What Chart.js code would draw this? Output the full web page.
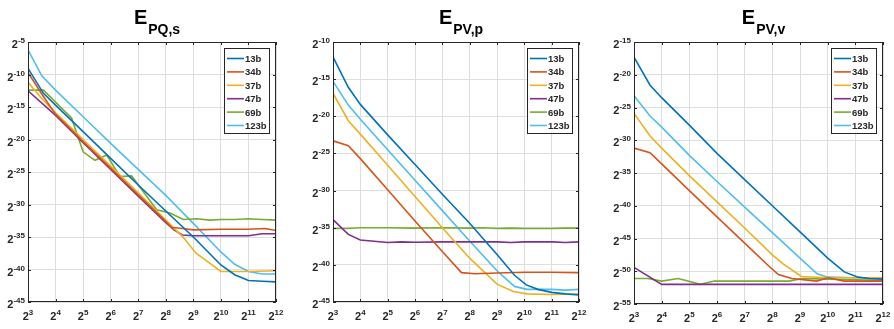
<!DOCTYPE html>
<html>
<head>
<meta charset="utf-8">
<script src="https://cdn.jsdelivr.net/npm/chart.js@4.4.1/dist/chart.umd.min.js"></script>
<style>
  html, body { margin: 0; padding: 0; background: #fff; }
  #wrap { position: relative; width: 894px; height: 329px; }
  canvas { position: absolute; top: 0; }
</style>
</head>
<body>
<div id="wrap">
  <canvas id="pqs" width="298" height="329" style="left:0px"></canvas>
  <canvas id="pvp" width="298" height="329" style="left:298px"></canvas>
  <canvas id="pvv" width="298" height="329" style="left:596px"></canvas>
</div>
<script>
// values are log2 exponents: x = log2(N), y = log2(error)
const seriesNames = ['13b', '34b', '37b', '47b', '69b', '123b'];
const xTicks = [3, 4, 5, 6, 7, 8, 9, 10, 11, 12];
const pqsYTicks = [-45, -40, -35, -30, -25, -20, -15, -10, -5];
const pvpYTicks = [-45, -40, -35, -30, -25, -20, -15, -10];
const pvvYTicks = [-55, -50, -45, -40, -35, -30, -25, -20, -15];

// E_PQ,s
const pqs13b = [[3,-9.05],[3.56,-12.9],[4,-14.7],[5,-18.8],[6,-22.9],[7,-27.0],[8,-31.0],[9,-35.0],[10,-39.3],[10.5,-40.8],[11,-41.7],[11.5,-41.8],[12,-41.9]];
const pqs34b = [[3,-9.7],[3.5,-13.0],[4,-16.1],[5,-20.3],[6,-24.4],[7,-28.5],[8,-32.6],[8.2,-33.5],[8.6,-33.7],[9,-33.9],[10,-33.8],[11,-33.8],[11.6,-33.7],[12,-34.0]];
const pqs37b = [[3,-11.2],[3.5,-13.7],[4,-15.9],[5,-20.0],[6,-24.1],[7,-28.2],[8,-32.4],[8.6,-34.9],[9.1,-37.5],[10,-40.3],[11,-40.3],[12,-40.2]];
const pqs47b = [[3,-12.5],[4,-16.3],[5,-20.5],[6,-24.6],[7,-28.7],[8,-32.8],[8.3,-33.9],[8.6,-34.7],[9,-34.8],[10,-34.8],[11,-34.8],[11.5,-34.5],[12,-34.5]];
const pqs69b = [[3,-12.4],[3.56,-12.4],[4.58,-16.7],[5.0,-21.9],[5.43,-23.2],[5.86,-22.4],[6.34,-25.7],[6.76,-25.6],[7.67,-30.8],[8.15,-31.3],[8.64,-32.3],[9.12,-32.2],[9.6,-32.4],[10,-32.3],[10.5,-32.3],[11,-32.2],[11.5,-32.3],[12,-32.4]];
const pqs123b = [[3,-6.2],[3.5,-10.2],[4,-12.4],[5,-16.5],[6,-20.6],[7,-24.6],[8,-28.6],[9,-32.9],[10,-37.3],[10.5,-39.2],[11,-40.3],[11.5,-40.7],[12,-40.7]];

// E_PV,p
const pvp13b = [[3,-12.0],[3.56,-16.1],[4,-18.4],[5,-22.5],[6,-26.5],[7,-30.5],[8,-34.4],[9,-38.6],[9.64,-41.4],[10.07,-42.7],[10.5,-43.3],[11,-43.7],[11.5,-43.9],[12,-44.05]];
const pvp34b = [[3,-23.3],[3.56,-23.95],[4,-25.7],[5,-29.9],[6,-34.1],[7,-38.2],[7.7,-41.05],[8.2,-41.2],[9,-41.1],[10,-41.0],[11,-41.0],[12,-41.05]];
const pvp37b = [[3,-16.9],[3.56,-20.6],[4,-22.4],[5,-26.6],[6,-30.8],[7,-35.0],[8,-39.1],[9,-42.6],[9.6,-43.6],[10.1,-43.9],[11,-44.0],[12,-43.9]];
const pvp47b = [[3,-33.9],[3.56,-35.9],[4,-36.65],[5,-37.0],[5.5,-36.9],[6,-36.95],[7,-36.9],[8,-36.9],[9,-36.9],[9.5,-37.0],[10,-36.9],[11,-36.9],[11.5,-37.0],[12,-36.9]];
const pvp69b = [[3,-35.1],[3.5,-35.1],[4,-35.0],[5,-35.0],[6,-35.05],[7,-35.0],[8,-35.05],[8.5,-35.0],[9,-35.1],[9.5,-35.05],[10,-35.1],[11,-35.1],[11.5,-35.05],[12,-35.05]];
const pvp123b = [[3,-15.3],[3.56,-18.5],[4,-20.4],[5,-24.5],[6,-28.6],[7,-32.7],[8,-36.8],[9,-40.8],[9.64,-42.9],[10.1,-43.3],[11,-43.3],[11.5,-43.4],[12,-43.3]];

// E_PV,v
const pvv13b = [[3,-17.3],[3.58,-21.6],[4,-23.5],[5,-27.7],[6,-32.0],[7,-36.0],[8,-40.0],[9,-44.0],[10,-48.0],[10.6,-50.1],[11.1,-50.9],[11.5,-51.1],[12,-51.2]];
const pvv34b = [[3,-31.2],[3.58,-31.9],[4,-33.6],[5,-37.7],[6,-41.7],[7,-45.7],[7.87,-49.2],[8.22,-50.5],[8.7,-51.1],[9.6,-51.5],[10.03,-51.0],[10.6,-51.5],[11,-51.5],[12,-51.5]];
const pvv37b = [[3,-25.9],[3.58,-29.35],[4,-31.2],[5,-35.4],[6,-39.4],[7,-43.4],[8,-47.5],[8.4,-48.9],[9.05,-50.8],[10,-51.0],[11,-51.0],[12,-51.0]];
const pvv47b = [[3,-49.4],[4,-52.0],[5,-52.0],[6,-52.0],[7,-52.0],[8,-52.0],[9,-52.0],[10,-52.0],[11,-52.0],[12,-52.0]];
const pvv69b = [[3,-51.1],[3.5,-51.1],[4,-51.5],[4.6,-51.1],[5.4,-52.0],[5.9,-51.5],[7,-51.5],[8.6,-51.5],[9.1,-51.1],[10,-51.2],[11,-51.3],[12,-51.4]];
const pvv123b = [[3,-23.2],[3.58,-26.3],[4,-28.0],[5,-32.3],[6,-36.3],[7,-40.2],[8,-44.1],[9,-48.0],[9.62,-50.4],[10,-50.9],[11,-51.0],[12,-51.0]];

const colors = ['#0072BD', '#D95319', '#EDB120', '#7E2F8E', '#77AC30', '#4DBEEE'];
const FONT = '"Liberation Sans", Arial, Helvetica, sans-serif';
const AXIS = '#262626';

// "2" with a raised exponent, like MATLAB's 2^{n}
function drawPow(ctx, base, exp, x, y, align) {
    ctx.font = 'bold 11px ' + FONT;
    const wb = ctx.measureText(base).width;
    ctx.font = 'bold 8px ' + FONT;
    const we = ctx.measureText(exp).width;
    const start = align === 'center' ? x - (wb + we) / 2 : x - wb - we;
    ctx.font = 'bold 11px ' + FONT;
    ctx.fillText(base, start, y);
    ctx.font = 'bold 8px ' + FONT;
    ctx.fillText(exp, start + wb, y - 5);
}

const matlabLook = {
    id: 'matlabLook',
    afterDraw(chart, args, opts) {
        const ctx = chart.ctx;
        const a = chart.chartArea;
        const x = chart.scales.x;
        const y = chart.scales.y;
        ctx.save();
        ctx.fillStyle = AXIS;
        ctx.strokeStyle = AXIS;
        ctx.textAlign = 'left';
        ctx.textBaseline = 'alphabetic';

        // box and inward ticks
        ctx.lineWidth = 1;
        ctx.strokeRect(a.left + 0.5, a.top + 0.5, a.right - a.left - 1, a.bottom - a.top - 1);
        ctx.beginPath();
        xTicks.forEach(v => {
            const px = Math.round(x.getPixelForValue(v)) + 0.5;
            ctx.moveTo(px, a.bottom); ctx.lineTo(px, a.bottom - 3);
            ctx.moveTo(px, a.top); ctx.lineTo(px, a.top + 3);
        });
        opts.yTicks.forEach(v => {
            const py = Math.round(y.getPixelForValue(v)) + 0.5;
            ctx.moveTo(a.left, py); ctx.lineTo(a.left + 3, py);
            ctx.moveTo(a.right, py); ctx.lineTo(a.right - 3, py);
        });
        ctx.stroke();

        // tick labels
        xTicks.forEach(v => drawPow(ctx, '2', String(v), x.getPixelForValue(v), a.bottom + 17.5, 'center'));
        opts.yTicks.forEach(v => drawPow(ctx, '2', String(v), a.left - 3, y.getPixelForValue(v) + 6, 'right'));

        // title E_{sub}
        ctx.font = 'bold 20px ' + FONT;
        const we = ctx.measureText('E').width;
        ctx.font = 'bold 14px ' + FONT;
        const ws = ctx.measureText(opts.sub).width;
        const tx = (a.left + a.right) / 2 + 5 - (we + 1 + ws) / 2;
        ctx.fillStyle = '#000';
        ctx.font = 'bold 20px ' + FONT;
        ctx.fillText('E', tx, 23.5);
        ctx.font = 'bold 14px ' + FONT;
        ctx.fillText(opts.sub, tx + we + 1, 33.5);

        // legend box
        const bw = 45, bh = 85;
        const bx = a.right - 7 - bw, by = a.top + 5.5;
        ctx.fillStyle = '#fff';
        ctx.fillRect(bx, by, bw, bh);
        ctx.strokeStyle = AXIS;
        ctx.lineWidth = 1;
        ctx.strokeRect(Math.round(bx) + 0.5, Math.round(by) + 0.5, bw, bh);
        ctx.font = 'bold 9.5px ' + FONT;
        chart.data.datasets.forEach((ds, i) => {
            const ry = by + 11 + i * 13.4;
            ctx.strokeStyle = ds.borderColor;
            ctx.lineWidth = 1.6;
            ctx.beginPath();
            ctx.moveTo(bx + 3, ry); ctx.lineTo(bx + 20, ry);
            ctx.stroke();
            ctx.fillStyle = AXIS;
            ctx.fillText(ds.label, bx + 21, ry + 3.4);
        });
        ctx.restore();
    }
};

function makeChart(id, sub, lines, yTicks, pad) {
    const datasets = lines.map((pts, i) => ({
        label: seriesNames[i],
        data: pts.map(p => ({ x: p[0], y: p[1] })),
        borderColor: colors[i],
        borderWidth: 1.6,
        pointRadius: 0,
        fill: false,
        tension: 0,
    }));
    return new Chart(document.getElementById(id), {
        type: 'line',
        data: { datasets: datasets },
        options: {
            responsive: false,
            animation: false,
            events: [],
            layout: { padding: pad },
            plugins: {
                legend: { display: false },
                tooltip: { enabled: false },
                matlabLook: { sub: sub, yTicks: yTicks },
            },
            scales: {
                x: {
                    type: 'linear',
                    min: 3, max: 12,
                    ticks: { stepSize: 1, display: false },
                    grid: { color: '#dedede', drawTicks: false },
                    border: { display: false },
                },
                y: {
                    type: 'linear',
                    min: yTicks[0], max: yTicks[yTicks.length - 1],
                    ticks: { stepSize: 5, display: false },
                    grid: { color: '#dedede', drawTicks: false },
                    border: { display: false },
                },
            },
        },
        plugins: [matlabLook],
    });
}

makeChart('pqs', 'PQ,s', [pqs13b, pqs34b, pqs37b, pqs47b, pqs69b, pqs123b], pqsYTicks,
    { left: 28, right: 22, top: 42, bottom: 27 });
makeChart('pvp', 'PV,p', [pvp13b, pvp34b, pvp37b, pvp47b, pvp69b, pvp123b], pvpYTicks,
    { left: 35, right: 17, top: 42, bottom: 27 });
makeChart('pvv', 'PV,v', [pvv13b, pvv34b, pvv37b, pvv47b, pvv69b, pvv123b], pvvYTicks,
    { left: 38, right: 11, top: 42, bottom: 25 });
</script>
</body>
</html>
